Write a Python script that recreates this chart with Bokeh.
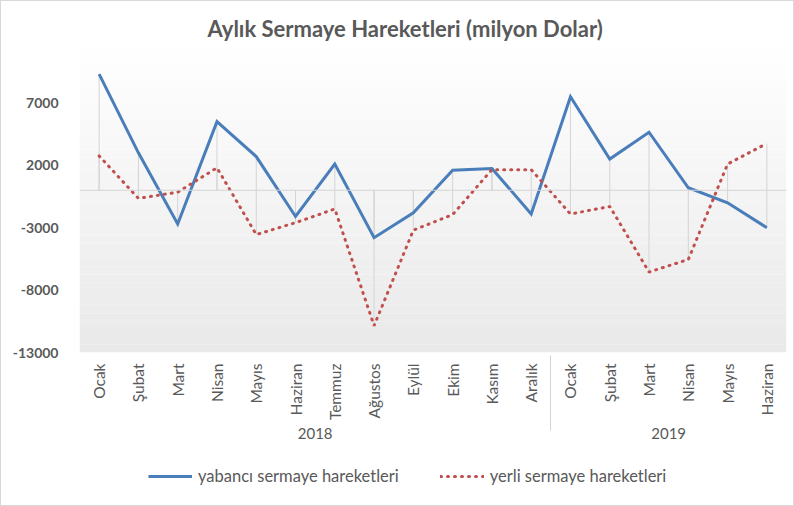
from bokeh.plotting import figure
from bokeh.layouts import column
from bokeh.models import (FactorRange, Range1d, FixedTicker, Span, Legend,
                          LegendItem, BoxAnnotation)
from bokeh.embed import file_html
from bokeh.resources import INLINE
import numpy as np
import math

# ---- data ----
years = ["2018"] * 12 + ["2019"] * 6
months = ["Ocak", "Şubat", "Mart", "Nisan", "Mayıs", "Haziran", "Temmuz", "Ağustos",
          "Eylül", "Ekim", "Kasım", "Aralık",
          "Ocak", "Şubat", "Mart", "Nisan", "Mayıs", "Haziran"]
yabanci = [9300, 3000, -2700, 5500, 2700, -2100, 2100, -3800, -1800, 1600, 1750, -1900,
           7500, 2500, 4650, 200, -1000, -3000]
yerli = [2750, -650, -150, 1800, -3550, -2600, -1500, -10850, -3200, -1950, 1650, 1650,
         -1900, -1300, -6550, -5550, 2100, 3750]
y_ticks = [-13000, -8000, -3000, 2000, 7000]
y_min, y_max = -13000, 12000
title_text = "Aylık Sermaye Hareketleri (milyon Dolar)"
series_names = ["yabancı sermaye hareketleri", "yerli sermaye hareketleri"]

TXT = "#595959"
FONT = "Lato"
BLUE = "#4A7EBB"
RED = "#C0504D"

factors = list(zip(years, months))
xr = FactorRange(factors=factors, group_padding=0, factor_padding=0, range_padding=0)

p = figure(width=792, height=452, x_range=xr, y_range=Range1d(y_min, y_max),
           output_backend="svg", toolbar_location=None,
           min_border_left=78, min_border_right=7, min_border_top=39,
           min_border_bottom=101, outline_line_color=None,
           background_fill_color="white", border_fill_color="white")

p.title.text = title_text
p.title.align = "left"
p.title.offset = 128
p.title.standoff = -2
p.title.text_font = FONT
p.title.text_font_size = "22px"
p.title.text_font_style = "bold"
p.title.text_color = TXT

# background gradient (white top -> light gray bottom)
n_bands = 40
edges = np.linspace(y_min, y_max, n_bands + 1)
for i in range(n_bands):
    t = 1 - (i + 0.5) / n_bands
    g = int(round(255 - 22 * t))
    col = "#%02x%02x%02x" % (g, g, g)
    p.add_layout(BoxAnnotation(bottom=edges[i], top=edges[i + 1], fill_color=col,
                               fill_alpha=1, line_color=None, level="underlay"))

# zero line and drop lines
p.add_layout(Span(location=0, dimension="width", line_color="#d4d4d4", line_width=1))
zeros = [0] * len(factors)
p.segment(x0=factors, y0=zeros, x1=factors, y1=yabanci, line_color="#d4d4d4", line_width=1)
p.segment(x0=factors, y0=zeros, x1=factors, y1=yerli, line_color="#d4d4d4", line_width=1)

p.line(x=factors, y=yabanci, line_color=BLUE, line_width=3, line_join="miter")
p.line(x=factors, y=yerli, line_color=RED, line_width=3, line_dash="1 6", line_cap="round")

p.xgrid.visible = False
p.ygrid.visible = False

xa = p.xaxis[0]
xa.major_label_orientation = math.pi / 2
xa.major_label_text_font = FONT
xa.major_label_text_font_size = "15.5px"
xa.major_label_text_color = TXT
xa.group_text_font = FONT
xa.group_text_font_size = "15px"
xa.group_text_font_style = "normal"
xa.group_text_color = TXT
xa.axis_line_color = None
xa.major_tick_line_color = None
xa.minor_tick_line_color = None
xa.separator_line_color = "#d4d4d4"
xa.separator_line_width = 1
xa.major_label_standoff = 5

ya = p.yaxis[0]
ya.ticker = FixedTicker(ticks=y_ticks)
ya.major_label_overrides = {t: str(t) for t in y_ticks}
ya.major_label_text_font = FONT
ya.major_label_text_font_size = "14px"
ya.major_label_text_font_style = "bold"
ya.major_label_text_color = TXT
ya.axis_line_color = None
ya.major_tick_line_color = None
ya.minor_tick_line_color = None
ya.major_label_standoff = 15

# ---- legend strip (series drawn out of view; only legend glyphs show) ----
idx = list(range(len(yabanci)))
pl = figure(width=792, height=52, x_range=Range1d(0, 1), y_range=Range1d(50000, 60000),
            output_backend="svg", toolbar_location=None, min_border=0,
            outline_line_color=None, background_fill_color="white",
            border_fill_color="white")
pl.axis.visible = False
pl.xgrid.visible = False
pl.ygrid.visible = False
l1 = pl.line(x=idx, y=yabanci, line_color=BLUE, line_width=3)
l2 = pl.line(x=idx, y=yerli, line_color=RED, line_width=3, line_dash="1 6", line_cap="round")
legend = Legend(items=[LegendItem(label=series_names[0], renderers=[l1]),
                       LegendItem(label=series_names[1], renderers=[l2])],
                orientation="horizontal", location=(69, 19), border_line_color=None,
                background_fill_alpha=0, glyph_width=44, label_standoff=6, spacing=41,
                padding=0, margin=0,
                label_text_font=FONT, label_text_font_size="16.5px", label_text_color=TXT)
pl.add_layout(legend, "center")

layout = column(p, pl, spacing=0, styles={"border": "1px solid #d9d9d9"})

open("out.html", "w").write(file_html(layout, INLINE))
